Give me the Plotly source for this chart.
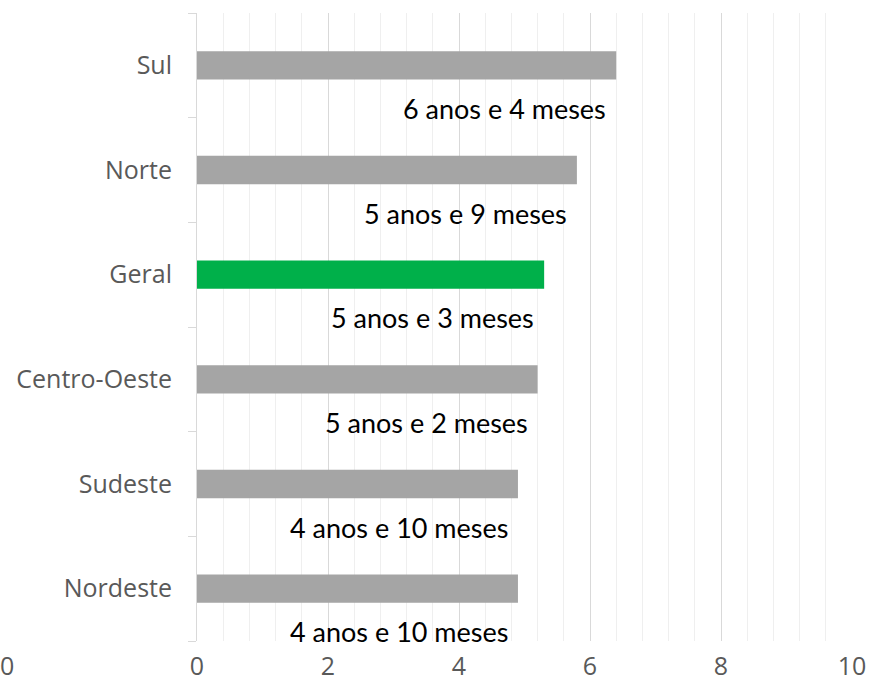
import plotly.graph_objects as go

categories = ["Nordeste", "Sudeste", "Centro-Oeste", "Geral", "Norte", "Sul"]
values = [4.9, 4.9, 5.2, 5.3, 5.8, 6.4]
labels = ["4 anos e 10 meses", "4 anos e 10 meses", "5 anos e 2 meses",
          "5 anos e 3 meses", "5 anos e 9 meses", "6 anos e 4 meses"]
colors = ["#a5a5a5", "#a5a5a5", "#a5a5a5", "#00b04a", "#a5a5a5", "#a5a5a5"]
x_ticks = [0, 2, 4, 6, 8, 10]

pos = list(range(len(categories)))

fig = go.Figure(go.Bar(
    x=values, y=pos, orientation="h",
    marker=dict(color=colors, line=dict(width=0)),
    width=0.27,
    hoverinfo="skip",
))

for p, v, t in zip(pos, values, labels):
    fig.add_annotation(x=v, y=p, text=t, showarrow=False, xanchor="right",
                       xshift=-8, yshift=-43,
                       font=dict(family="Lato", size=27, color="#000000"))

# stray label at bottom-left in the reference
fig.add_annotation(x=0, y=0, xref="paper", yref="paper", xshift=-199, yshift=-24,
                   text="0", showarrow=False, xanchor="left", yanchor="middle",
                   font=dict(family="Open Sans", size=25, color="#595959"))

fig.update_layout(
    width=869, height=685,
    margin=dict(l=197, r=17, t=13, b=44),
    plot_bgcolor="white", paper_bgcolor="white",
    showlegend=False,
    xaxis=dict(
        range=[0, 10], tickvals=x_ticks, ticktext=[str(v) for v in x_ticks],
        showgrid=True, gridcolor="#d9d9d9", gridwidth=1,
        zeroline=False, showline=False, ticks="", ticklabelstandoff=8,
        tickfont=dict(family="Open Sans", size=25, color="#595959"),
        minor=dict(dtick=0.4, tick0=0, showgrid=True, gridcolor="#efefef", gridwidth=1),
        automargin=False, fixedrange=True,
    ),
    yaxis=dict(
        range=[-0.5, 5.5], tickvals=pos, ticktext=categories,
        showgrid=False, zeroline=False,
        showline=True, linecolor="#d9d9d9", linewidth=1,
        ticks="", ticklabelstandoff=19,
        tickfont=dict(family="Open Sans", size=25, color="#595959"),
        minor=dict(tickvals=[p - 0.5 for p in pos] + [pos[-1] + 0.5],
                   ticks="outside", ticklen=8, tickcolor="#d9d9d9", tickwidth=1,
                   showgrid=False),
        automargin=False, fixedrange=True,
    ),
)

fig.write_html("out.html", config={"displayModeBar": False},
               post_script="document.body.style.margin='0px';")
